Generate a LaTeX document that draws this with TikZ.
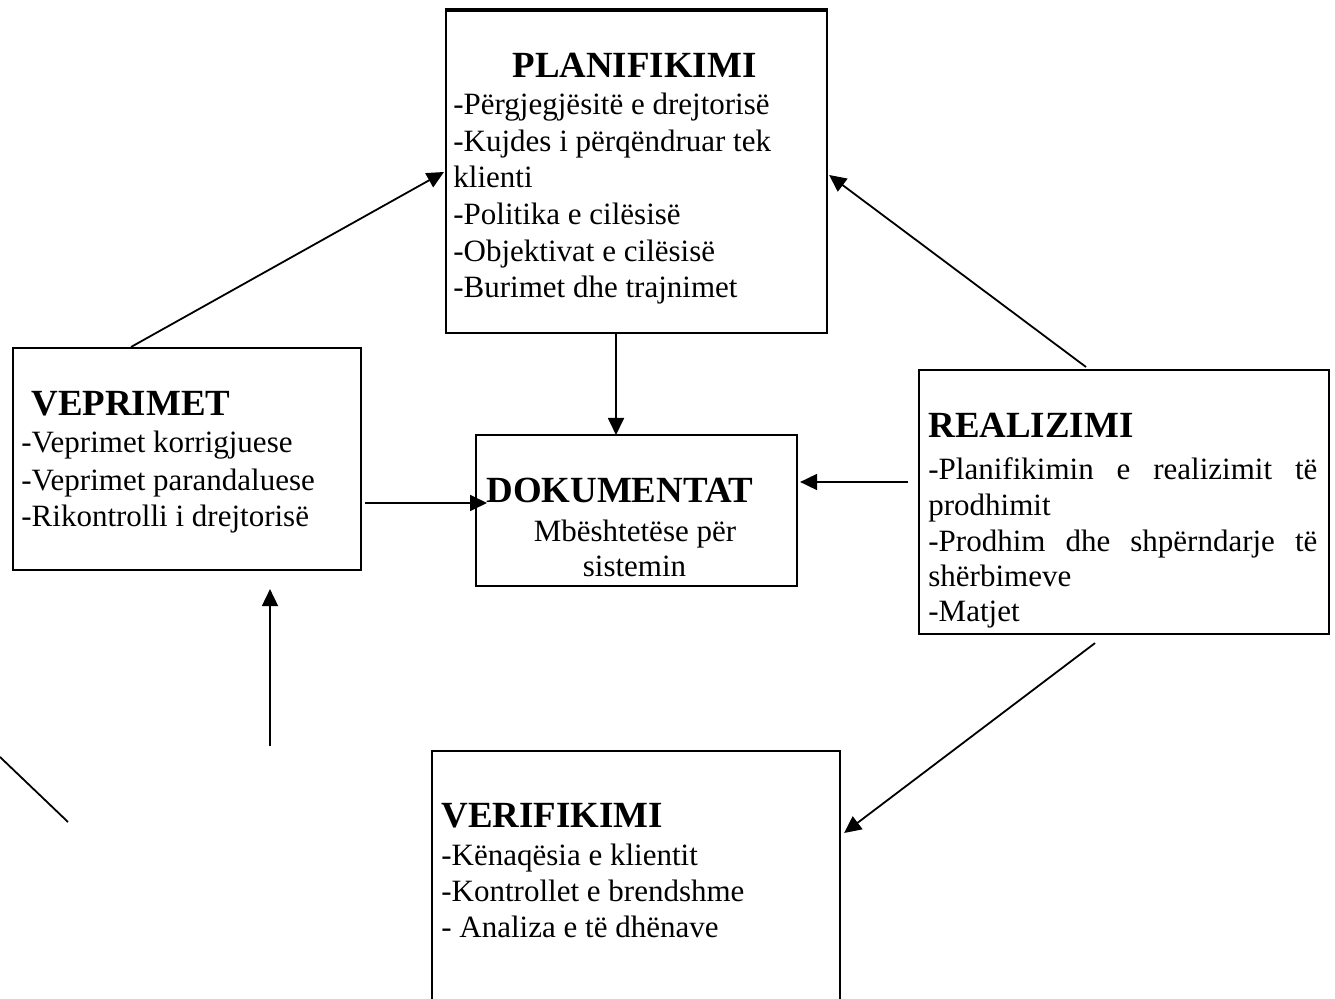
\documentclass[tikz,border=0pt]{standalone}
\usepackage{fontspec}
\setmainfont{Liberation Serif}
\usetikzlibrary{arrows.meta,calc}
\begin{document}
\begin{tikzpicture}[x=0.5pt,y=-0.5pt,
  box/.style={draw,line width=1.05pt,rectangle,inner sep=0pt,anchor=north west},
  hd/.style={anchor=base west,inner sep=0pt,font=\fontsize{18.45}{22}\selectfont\bfseries},
  hdc/.style={anchor=base,inner sep=0pt,font=\fontsize{18.45}{22}\selectfont\bfseries},
  tx/.style={anchor=base west,inner sep=0pt,font=\fontsize{15.5}{18.4}\selectfont},
  txc/.style={anchor=base,inner sep=0pt,font=\fontsize{15.5}{18.4}\selectfont},
  conn/.style={line width=0.9pt,-{Triangle[length=8.5pt,width=8pt]}},
  plainline/.style={line width=0.9pt}]
\useasboundingbox (0,0) rectangle (1335,999);
\clip (0,0) rectangle (1335,999);

% boxes
\node[box,minimum width=190.5pt,minimum height=161pt] (plan) at (445,10) {};
\draw[line width=1.7pt] (plan.north west) -- (plan.north east);
\node[box,minimum width=174pt,minimum height=111pt] (vep) at (12,347) {};
\node[box,minimum width=160.5pt,minimum height=75.5pt] (dok) at (475,434) {};
\node[box,minimum width=205pt,minimum height=132pt] (real) at (918,369) {};
\node[box,minimum width=204pt,minimum height=150pt] (ver) at (431,750) {};

% PLANIFIKIMI text
\node[hdc] (planh) at (634.5,78) {PLANIFIKIMI};
\node[tx] (pl1) at (453,115) {-Përgjegjësitë e drejtorisë};
\node[tx] (pl2) at (453,152) {-Kujdes i përqëndruar tek};
\node[tx] (pl3) at (453,188) {klienti};
\node[tx] (pl4) at (453,225) {-Politika e cilësisë};
\node[tx] (pl5) at (453,262) {-Objektivat e cilësisë};
\node[tx] (pl6) at (453,298) {-Burimet dhe trajnimet};

% VEPRIMET text
\node[hd] (veph) at (31,416) {VEPRIMET};
\node[tx] (ve1) at (21,453) {-Veprimet korrigjuese};
\node[tx] (ve2) at (21,491) {-Veprimet parandaluese};
\node[tx] (ve3) at (21,527) {-Rikontrolli i drejtorisë};

% DOKUMENTAT text
\node[hd] (dokh) at (486,503) {DOKUMENTAT};
\node[txc] (do1) at (635,542) {Mbështetëse për};
\node[txc] (do2) at (634.5,577) {sistemin};

% REALIZIMI text
\node[hd] (realh) at (928,438) {REALIZIMI};
\node[tx] (re1) at (928,480) {\makebox[194.5pt][s]{-Planifikimin e realizimit të}};
\node[tx] (re2) at (928,516) {prodhimit};
\node[tx] (re3) at (928,552) {\makebox[194.5pt][s]{-Prodhim dhe shpërndarje të}};
\node[tx] (re4) at (928,587) {shërbimeve};
\node[tx] (re5) at (928,622) {-Matjet};

% VERIFIKIMI text
\node[hd] (verh) at (441,828) {VERIFIKIMI};
\node[tx] (vr1) at (441,866) {-Kënaqësia e klientit};
\node[tx] (vr2) at (441,902) {-Kontrollet e brendshme};
\node[tx] (vr3) at (441,938) {- Analiza e të dhënave};

% connectors
\draw[conn] ($(vep.north west)+(119,0)$) -- ($(plan.north west)+(-1,162)$);
\draw[conn] ($(real.north west)+(168,-2)$) -- ($(plan.north east)+(1,165)$);
\draw[conn] ($(plan.south west)+(171,0)$) -- ($(dok.north west)+(141,1)$);
\draw[conn] ($(vep.north east)+(3,156)$) -- ($(dok.north west)+(12,69)$);
\draw[conn] ($(real.north west)+(-10,113)$) -- ($(dok.north east)+(2,48)$);
\draw[conn] ($(real.south west)+(177,8)$) -- ($(ver.north east)+(3,83)$);
\coordinate (upstart) at ($(vep.south west)+(258,175)$);
\draw[conn] (upstart) -- ($(vep.south west)+(258,18)$);
\coordinate (ls) at (0,757);
\coordinate (le) at (68,822);
\draw[plainline] (ls) -- (le);
\end{tikzpicture}
\end{document}
